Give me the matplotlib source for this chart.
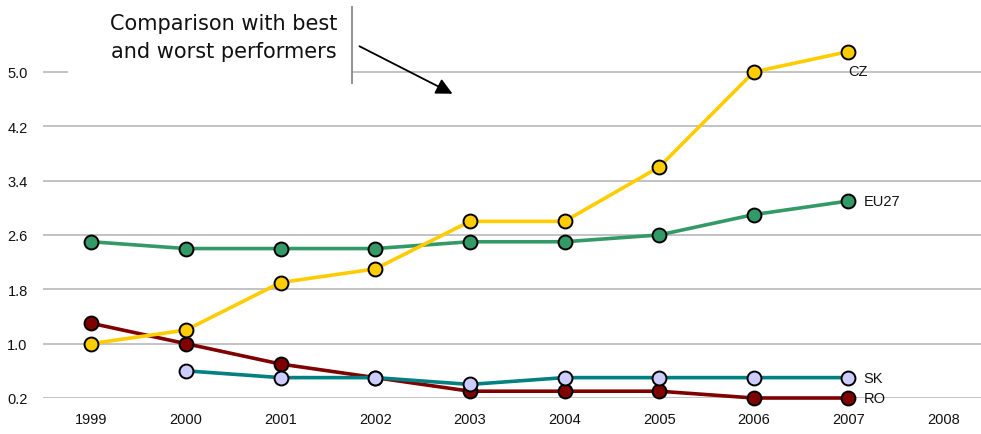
import matplotlib
matplotlib.use("Agg")
import matplotlib.pyplot as plt
from matplotlib.patches import Rectangle, FancyArrowPatch
from matplotlib.lines import Line2D

years = [1999, 2000, 2001, 2002, 2003, 2004, 2005, 2006, 2007]
cz = [1.0, 1.2, 1.9, 2.1, 2.8, 2.8, 3.6, 5.0, 5.3]
eu27 = [2.5, 2.4, 2.4, 2.4, 2.5, 2.5, 2.6, 2.9, 3.1]
ro = [1.3, 1.0, 0.7, 0.5, 0.3, 0.3, 0.3, 0.2, 0.2]
sk_years = [2000, 2001, 2002, 2003, 2004, 2005, 2006, 2007]
sk = [0.6, 0.5, 0.5, 0.4, 0.5, 0.5, 0.5, 0.5]
x_ticks = [1999, 2000, 2001, 2002, 2003, 2004, 2005, 2006, 2007, 2008]
y_ticks = [0.2, 1.0, 1.8, 2.6, 3.4, 4.2, 5.0]

W, H = 981, 435
fig = plt.figure(figsize=(W / 100, H / 100), dpi=100)
ax = fig.add_axes([43 / W, 1 - 399 / H, 1 - 43 / W, (399 - 5) / H])

ax.set_xlim(1998.49, 2008.4)
ax.set_ylim(0.2, 6.0)
ax.set_yticks(y_ticks)
ax.set_yticklabels([f"{v:.1f}" for v in y_ticks])
ax.set_xticks(x_ticks)
ax.set_xticklabels([str(v) for v in x_ticks])
for s in ax.spines.values():
    s.set_visible(False)
ax.tick_params(length=0, labelsize=10.5, colors="#111111")
ax.tick_params(axis="y", pad=11)
ax.tick_params(axis="x", pad=10)
for lab in ax.get_xticklabels() + ax.get_yticklabels():
    lab.set_family("Liberation Sans")
ax.yaxis.grid(True, color="#b3b3b3", linewidth=1.1)
ax.set_axisbelow(True)

mk = dict(marker="o", markersize=10, markeredgecolor="black",
          markeredgewidth=1.4, linewidth=2.6, clip_on=False)
ax.plot(sk_years, sk, color="#008080", markerfacecolor="#ccccff", zorder=3, **mk)
ax.plot(years, ro, color="#800000", markerfacecolor="#800000", zorder=2, **mk)
ax.plot(years, eu27, color="#339966", markerfacecolor="#339966", zorder=4, **mk)
ax.plot(years, cz, color="#ffcc00", markerfacecolor="#ffcc00", zorder=5, **mk)

lab_kw = dict(fontsize=10.5, family="Liberation Sans", color="#111111", va="center")
ax.annotate("CZ", (years[-1], cz[-1]), xytext=(0, -14), textcoords="offset points", ha="left", **lab_kw)
ax.annotate("EU27", (years[-1], eu27[-1]), xytext=(11, 0), textcoords="offset points", ha="left", **lab_kw)
ax.annotate("SK", (sk_years[-1], sk[-1]), xytext=(11, 0), textcoords="offset points", ha="left", **lab_kw)
ax.annotate("RO", (years[-1], ro[-1]), xytext=(11, 0), textcoords="offset points", ha="left", **lab_kw)

# text box with a plain white background and a grey right edge
fig.patches.append(Rectangle((68 / W, 1 - 85 / H), (352 - 68) / W, 77 / H,
                             transform=fig.transFigure, facecolor="white",
                             edgecolor="none", zorder=5))
fig.lines.append(Line2D([352 / W, 352 / W], [1 - 8 / H, 1 - 84 / H],
                        transform=fig.transFigure, color="#888888",
                        linewidth=1.3, zorder=6))
fig.text(224 / W, 1 - 38 / H, "Comparison with best\nand worst performers",
         ha="center", va="center", multialignment="center",
         fontsize=15, family="DejaVu Sans", color="#111111",
         linespacing=1.45, zorder=7)
fig.add_artist(FancyArrowPatch(
    (357 / W, 1 - 46 / H), (455 / W, 1 - 96 / H), transform=fig.transFigure,
    arrowstyle="-|>,head_length=0.7,head_width=0.35", mutation_scale=14,
    color="black", linewidth=1.3, zorder=7))

fig.savefig("out.png", dpi=100)
